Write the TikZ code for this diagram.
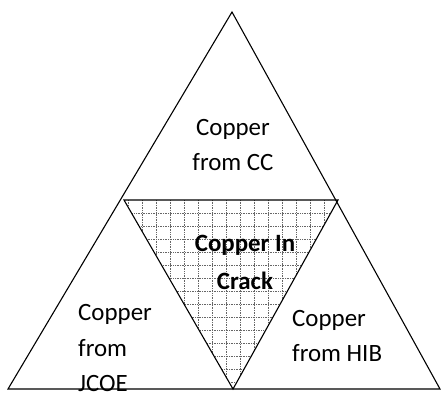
\documentclass[tikz,border=0pt]{standalone}
\usepackage{fontspec}
\setmainfont{Carlito}
\begin{document}
\begin{tikzpicture}[x=1bp,y=-1bp,
  edgeline/.style={draw=black,line width=1.1pt,line join=miter},
  gridline/.style={draw=black!60,densely dotted,line width=0.7pt},
  zonetext/.style={font=\fontsize{25}{36}\selectfont,inner sep=0pt}]
\useasboundingbox (0,0) rectangle (442,402);
% corners of the big triangle and the midpoints of its sides
\coordinate (apex) at (232,12);
\coordinate (baseL) at (8,389);
\coordinate (baseR) at (440,389);
\coordinate (midL) at (124,200);
\coordinate (midR) at (338,200);
\coordinate (midB) at (233,389);
% hatched crack region
\begin{scope}
  \clip (midL) -- (midR) -- (midB) -- cycle;
  \foreach \x in {128,142,...,338}
    \draw[gridline] (\x,200) -- (\x,389);
  \foreach \y in {213,226,...,389}
    \draw[gridline] (124,\y) -- (338,\y);
\end{scope}
\draw[edgeline] (apex) -- (baseL) -- (baseR) -- cycle;
\draw[edgeline] (midL) -- (midR) -- (midB) -- cycle;
\node[zonetext,align=center] (cc) at (233,145) {Copper\\from CC};
\node[zonetext,align=center,font=\fontsize{25}{38}\selectfont\bfseries] (crack) at (245,262) {Copper In\\Crack};
\node[zonetext,align=left,anchor=west] (jcoe) at (78,348) {Copper\\from\\JCOE};
\node[zonetext,align=left,anchor=west] (hib) at (292,336) {Copper\\from HIB};
\end{tikzpicture}
\end{document}
